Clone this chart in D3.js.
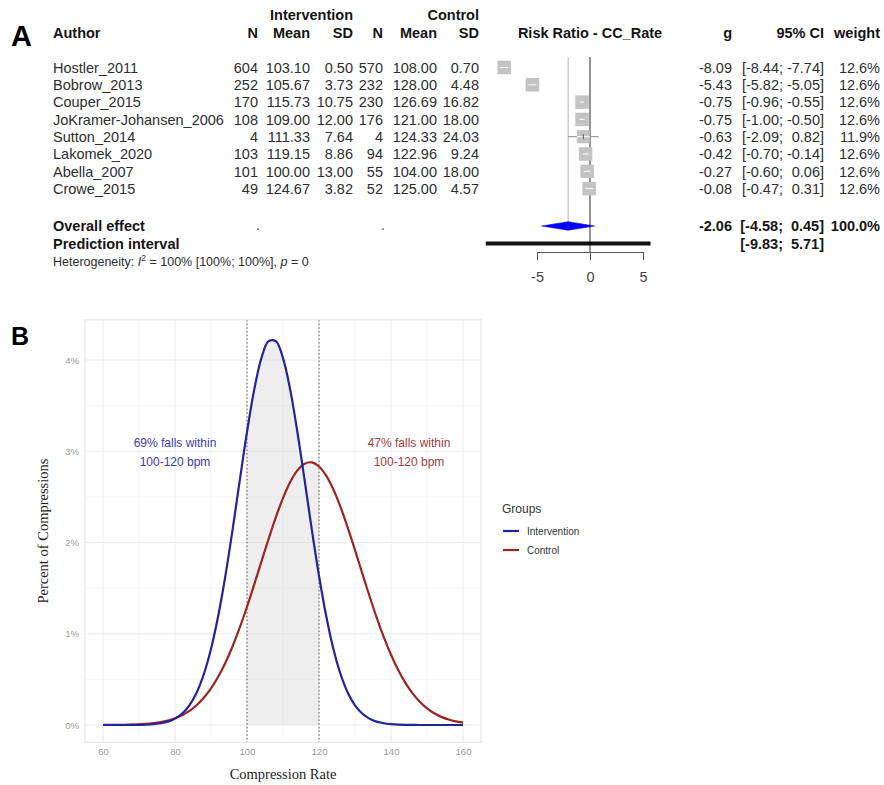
<!DOCTYPE html>
<html><head><meta charset="utf-8">
<script src="https://cdn.jsdelivr.net/npm/d3@7"></script>
<style>body{margin:0;background:#fff}svg{display:block}</style>
</head><body><svg id="c" width="884" height="785"></svg>
<script>
// ---------- Panel A data ----------
const authors = ["Hostler_2011","Bobrow_2013","Couper_2015","JoKramer-Johansen_2006","Sutton_2014","Lakomek_2020","Abella_2007","Crowe_2015"];
const intN    = [604, 252, 170, 108, 4, 103, 101, 49];
const intMean = ["103.10","105.67","115.73","109.00","111.33","119.15","100.00","124.67"];
const intSD   = ["0.50","3.73","10.75","12.00","7.64","8.86","13.00","3.82"];
const ctlN    = [570, 232, 230, 176, 4, 94, 55, 52];
const ctlMean = ["108.00","128.00","126.69","121.00","124.33","122.96","104.00","125.00"];
const ctlSD   = ["0.70","4.48","16.82","18.00","24.03","9.24","18.00","4.57"];
const gVal    = [-8.09, -5.43, -0.75, -0.75, -0.63, -0.42, -0.27, -0.08];
const ciLow   = [-8.44, -5.82, -0.96, -1.00, -2.09, -0.70, -0.60, -0.47];
const ciHigh  = [-7.74, -5.05, -0.55, -0.50, 0.82, -0.14, 0.06, 0.31];
const weights = [12.6, 12.6, 12.6, 12.6, 11.9, 12.6, 12.6, 12.6];
const overallEffect = [-2.06, -4.58, 0.45];   // g, lower, upper
const overallWeight = 100.0;
const predInterval  = [-9.83, 5.71];
const forestTicks   = [-5, 0, 5];

// ---------- Panel B data ----------
const rates = [60,62,64,66,68,70,72,74,76,78,80,82,84,86,88,90,92,94,96,98,100,102,104,106,108,110,112,114,116,118,120,122,124,126,128,130,132,134,136,138,140,142,144,146,148,150,152,154,156,158,160];
const interventionPct = [0.000,0.000,0.000,0.000,0.001,0.002,0.004,0.009,0.019,0.037,0.070,0.126,0.216,0.354,0.556,0.833,1.194,1.636,2.142,2.683,3.211,3.675,4.021,4.206,4.206,4.021,3.675,3.211,2.683,2.142,1.636,1.194,0.833,0.556,0.354,0.216,0.126,0.070,0.037,0.019,0.009,0.004,0.002,0.001,0.000,0.000,0.000,0.000,0.000,0.000,0.000];
const controlPct = [0.001,0.001,0.002,0.003,0.005,0.008,0.013,0.021,0.032,0.049,0.074,0.108,0.154,0.217,0.298,0.401,0.529,0.682,0.863,1.069,1.296,1.539,1.791,2.040,2.276,2.487,2.662,2.790,2.863,2.878,2.833,2.732,2.580,2.386,2.161,1.916,1.665,1.416,1.180,0.963,0.770,0.602,0.462,0.347,0.255,0.183,0.129,0.089,0.060,0.040,0.026];
const groups = ["Intervention","Control"];
const xTicks = [60, 80, 100, 120, 140, 160];
const xMinor = [50, 70, 90, 110, 130, 150, 170];
const yTicks = [0, 1, 2, 3, 4];
const yMinor = [0.5, 1.5, 2.5, 3.5];
const targetRange = [100, 120];
const annotations = [["69% falls within","100-120 bpm"],["47% falls within","100-120 bpm"]];
const annotationRate = [80, 145];

const svg = d3.select("#c");
svg.append("rect").attr("width",884).attr("height",785).attr("fill","#fff");
const SANS = "Liberation Sans, Arial, Helvetica, sans-serif";
const SERIF = "Liberation Serif, Times New Roman, serif";

function txt(g, x, y, s, o = {}) {
  return g.append("text").attr("x", x).attr("y", y)
    .attr("text-anchor", o.anchor || "start")
    .attr("font-family", o.family || SANS)
    .attr("font-size", o.size || 14.5)
    .attr("font-weight", o.bold ? "bold" : "normal")
    .attr("fill", o.fill || "#2e2e2e")
    .text(s);
}

// ================= PANEL A =================
const A = svg.append("g");
txt(A, 11, 46, "A", {size: 29, bold: true, fill: "#000"});

const fx = d3.scaleLinear().domain([-5, 5]).range([537, 643]);
const fy = d3.scaleLinear().domain([0, 1]).range([67.5, 84.8]);
const yOverall = 226, yPred = 243.5, yHet = 261;
const base = 5.2; // text baseline offset from row centre

const col = {author: 53, iN: 258, iMean: 310, iSD: 353, cN: 383, cMean: 437, cSD: 479, g: 732, ciL: 783, ciH: 824, w: 880};
const HB = {bold: true, fill: "#151515"};

// headers
txt(A, col.iSD, 15 + base, "Intervention", {...HB, anchor: "end"});
txt(A, col.cSD, 15 + base, "Control", {...HB, anchor: "end"});
txt(A, col.author, 32.5 + base, "Author", HB);
[["N", col.iN],["Mean", col.iMean],["SD", col.iSD],["N", col.cN],["Mean", col.cMean],["SD", col.cSD]].forEach(([s, x]) =>
  txt(A, x, 32.5 + base, s, {...HB, anchor: "end"}));
txt(A, fx(0), 32.5 + base, "Risk Ratio - CC_Rate", {...HB, anchor: "middle"});
txt(A, col.g, 32.5 + base, "g", {...HB, anchor: "end"});
txt(A, col.ciH, 32.5 + base, "95% CI", {...HB, anchor: "end"});
txt(A, col.w, 32.5 + base, "weight", {...HB, anchor: "end"});

const f2 = v => v.toFixed(2);
authors.forEach((a, i) => {
  const y = fy(i) + base;
  txt(A, col.author, y, a);
  txt(A, col.iN, y, intN[i], {anchor: "end"});
  txt(A, col.iMean, y, intMean[i], {anchor: "end"});
  txt(A, col.iSD, y, intSD[i], {anchor: "end"});
  txt(A, col.cN, y, ctlN[i], {anchor: "end"});
  txt(A, col.cMean, y, ctlMean[i], {anchor: "end"});
  txt(A, col.cSD, y, ctlSD[i], {anchor: "end"});
  txt(A, col.g, y, f2(gVal[i]), {anchor: "end"});
  txt(A, col.ciL, y, "[" + f2(ciLow[i]) + ";", {anchor: "end"});
  txt(A, col.ciH, y, f2(ciHigh[i]) + "]", {anchor: "end"});
  txt(A, col.w, y, weights[i].toFixed(1) + "%", {anchor: "end"});
});

// overall rows
txt(A, col.author, yOverall + base, "Overall effect", HB);
txt(A, col.iN + 2, yOverall + base - 1, ".", {anchor: "end", fill: "#444"});
txt(A, col.cN + 2, yOverall + base - 1, ".", {anchor: "end", fill: "#444"});
txt(A, col.g, yOverall + base, f2(overallEffect[0]), {...HB, anchor: "end"});
txt(A, col.ciL, yOverall + base, "[" + f2(overallEffect[1]) + ";", {...HB, anchor: "end"});
txt(A, col.ciH, yOverall + base, f2(overallEffect[2]) + "]", {...HB, anchor: "end"});
txt(A, col.w, yOverall + base, overallWeight.toFixed(1) + "%", {...HB, anchor: "end"});
txt(A, col.author, yPred + base, "Prediction interval", HB);
txt(A, col.ciL, yPred + base, "[" + f2(predInterval[0]) + ";", {...HB, anchor: "end"});
txt(A, col.ciH, yPred + base, f2(predInterval[1]) + "]", {...HB, anchor: "end"});

// heterogeneity
const het = A.append("text").attr("x", col.author).attr("y", yHet + 4.5)
  .attr("font-family", SANS).attr("font-size", 12.5).attr("fill", "#2e2e2e");
het.append("tspan").text("Heterogeneity: ");
het.append("tspan").attr("font-style", "italic").text("I");
het.append("tspan").attr("dy", -5).attr("font-size", 8.5).text("2");
het.append("tspan").attr("dy", 5).text(" = 100% [100%; 100%], ");
het.append("tspan").attr("font-style", "italic").text("p");
het.append("tspan").text(" = 0");

// forest graphics
const forestTop = 57, axisY = 252;
A.append("line").attr("x1", fx(overallEffect[0])).attr("x2", fx(overallEffect[0]))
  .attr("y1", forestTop).attr("y2", yOverall).attr("stroke", "#b8b8b8").attr("stroke-width", 1);
A.append("line").attr("x1", fx(0)).attr("x2", fx(0)).attr("y1", forestTop).attr("y2", axisY)
  .attr("stroke", "#3a3a3a").attr("stroke-width", 1.1);

const boxBase = 13.5;
authors.forEach((a, i) => {
  const cy = fy(i), s = boxBase * Math.sqrt(weights[i] / 12.6);
  const xl = fx(ciLow[i]), xh = fx(ciHigh[i]), xc = fx(gVal[i]);
  A.append("line").attr("x1", xl).attr("x2", xh).attr("y1", cy).attr("y2", cy)
    .attr("stroke", "#8c8c8c").attr("stroke-width", 1);
  A.append("rect").attr("x", xc - s / 2).attr("y", cy - s / 2).attr("width", s).attr("height", s)
    .attr("fill", "#c3c3c3");
  const il = Math.max(xl, xc - s / 2), ih = Math.min(xh, xc + s / 2);
  A.append("line").attr("x1", il).attr("x2", ih).attr("y1", cy).attr("y2", cy)
    .attr("stroke", "#fff").attr("stroke-width", 1);
  if (xh - xl > s) A.append("line").attr("x1", xc).attr("x2", xc).attr("y1", cy - 2.5).attr("y2", cy + 2.5)
    .attr("stroke", "#555").attr("stroke-width", 1);
});
// diamond
const dh = 4.3;
A.append("path").attr("d", d3.line()([
  [fx(overallEffect[1]), yOverall], [fx(overallEffect[0]), yOverall - dh],
  [fx(overallEffect[2]), yOverall], [fx(overallEffect[0]), yOverall + dh]]) + "Z")
  .attr("fill", "#0000ff").attr("stroke", "#0000cc").attr("stroke-width", 0.5);
// prediction interval
A.append("line").attr("x1", fx(predInterval[0])).attr("x2", fx(predInterval[1]))
  .attr("y1", yPred).attr("y2", yPred).attr("stroke", "#111").attr("stroke-width", 4);
// axis
const fax = A.append("g").attr("transform", `translate(0,${axisY})`)
  .call(d3.axisBottom(fx).tickValues(forestTicks).tickSize(8).tickPadding(12).tickFormat(d => String(d)));
fax.selectAll("path,line").attr("stroke", "#555");
fax.selectAll("text").attr("font-family", SANS).attr("font-size", 14.5).attr("fill", "#444");

// ================= PANEL B =================
const B = svg.append("g");
txt(B, 11, 345, "B", {size: 25, bold: true, fill: "#000"});

const x = d3.scaleLinear().domain([60, 160]).range([103, 463]);
const y = d3.scaleLinear().domain([0, 4]).range([725, 360]);
const px0 = x(55), px1 = x(165), py0 = y(4.44), py1 = y(-0.19);

// grid
const grid = B.append("g");
xMinor.filter(v => x(v) > px0 && x(v) < px1).forEach(v =>
  grid.append("line").attr("x1", x(v)).attr("x2", x(v)).attr("y1", py0).attr("y2", py1).attr("stroke", "#f4f4f4").attr("stroke-width", 0.8));
yMinor.forEach(v =>
  grid.append("line").attr("x1", px0).attr("x2", px1).attr("y1", y(v)).attr("y2", y(v)).attr("stroke", "#f4f4f4").attr("stroke-width", 0.8));
xTicks.forEach(v =>
  grid.append("line").attr("x1", x(v)).attr("x2", x(v)).attr("y1", py0).attr("y2", py1).attr("stroke", "#ebebeb").attr("stroke-width", 1));
yTicks.forEach(v =>
  grid.append("line").attr("x1", px0).attr("x2", px1).attr("y1", y(v)).attr("y2", y(v)).attr("stroke", "#ebebeb").attr("stroke-width", 1));

// shaded region (area under curves between 100 and 120)
const shadeIdx = rates.map((r, i) => i).filter(i => rates[i] >= targetRange[0] && rates[i] <= targetRange[1]);
const area = d3.area().x(i => x(rates[i])).y0(y(0)).y1(i => y(Math.max(interventionPct[i], controlPct[i]))).curve(d3.curveCatmullRom);
B.append("path").attr("d", area(shadeIdx)).attr("fill", "#d6d6d6").attr("fill-opacity", 0.42);

// dotted lines
targetRange.forEach(v =>
  B.append("line").attr("x1", x(v)).attr("x2", x(v)).attr("y1", py0).attr("y2", py1)
    .attr("stroke", "#555").attr("stroke-width", 1).attr("stroke-dasharray", "1.5,2.2"));

// border
B.append("rect").attr("x", px0).attr("y", py0).attr("width", px1 - px0).attr("height", py1 - py0)
  .attr("fill", "none").attr("stroke", "#e2e2e2").attr("stroke-width", 1);

// curves
const colors = {"Intervention": "#23239c", "Control": "#9c2424"};
const series = {"Intervention": interventionPct, "Control": controlPct};
const line = d3.line().x((d, i) => x(rates[i])).y(d => y(d)).curve(d3.curveCatmullRom);
["Control", "Intervention"].forEach(gname =>
  B.append("path").attr("d", line(series[gname])).attr("fill", "none")
    .attr("stroke", colors[gname]).attr("stroke-width", 2.2).attr("stroke-linecap", "butt"));

// axes
const xa = B.append("g").attr("transform", `translate(0,${py1})`)
  .call(d3.axisBottom(x).tickValues(xTicks).tickSize(0).tickPadding(6));
xa.select(".domain").remove();
xa.selectAll("text").attr("font-family", SANS).attr("font-size", 9.5).attr("fill", "#9a9a9a");
const ya = B.append("g").attr("transform", `translate(${px0},0)`)
  .call(d3.axisLeft(y).tickValues(yTicks).tickSize(0).tickPadding(6).tickFormat(d => d + "%"));
ya.select(".domain").remove();
ya.selectAll("text").attr("font-family", SANS).attr("font-size", 9.5).attr("fill", "#9a9a9a");

// axis titles
txt(B, (px0 + px1) / 2, 779, "Compression Rate", {anchor: "middle", family: SERIF, size: 14.5, fill: "#1e1e1e"});
B.append("text").attr("transform", `translate(48,${(py0 + py1) / 2}) rotate(-90)`)
  .attr("text-anchor", "middle").attr("font-family", SERIF).attr("font-size", 14.5).attr("fill", "#1e1e1e")
  .text("Percent of Compressions");

// annotations
const annColors = ["#3b3bb0", "#a53a3a"];
annotations.forEach((lines, k) => {
  lines.forEach((s, j) => txt(B, x(annotationRate[k]), 447 + j * 19, s, {anchor: "middle", size: 12, fill: annColors[k]}));
});

// legend
const L = B.append("g");
txt(L, 502, 513, "Groups", {size: 12, fill: "#333"});
groups.forEach((gname, k) => {
  const ly = 531 + k * 19;
  L.append("line").attr("x1", 503).attr("x2", 519).attr("y1", ly).attr("y2", ly)
    .attr("stroke", colors[gname]).attr("stroke-width", 2.2);
  txt(L, 527, ly + 3.5, gname, {size: 10, fill: "#333"});
});
</script>
</body></html>
